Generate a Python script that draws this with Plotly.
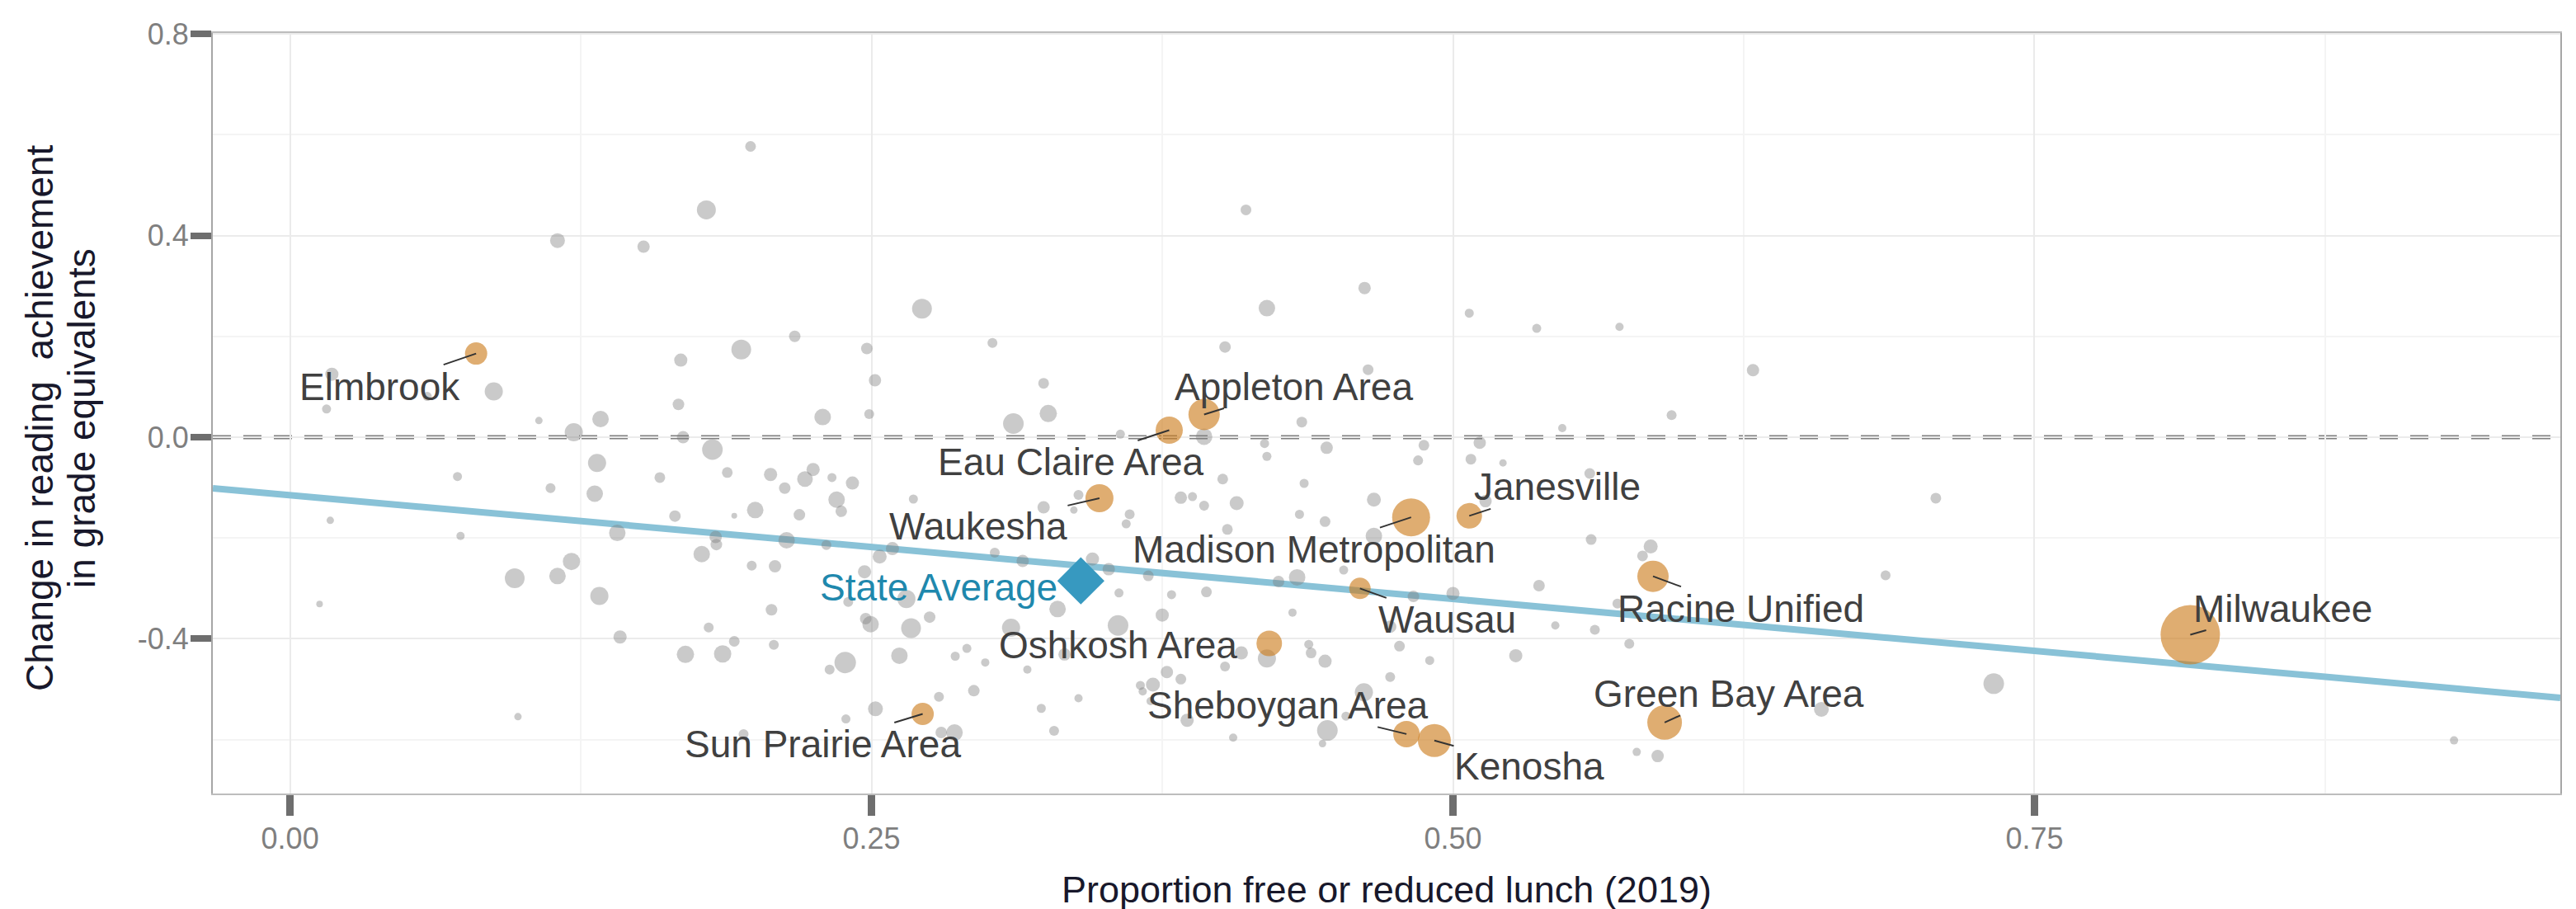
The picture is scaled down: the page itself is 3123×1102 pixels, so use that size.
import numpy as np
import plotly.graph_objects as go

# ---------------- data ----------------
# Gray points: all other districts (proportion FRL 2019, change in reading GE, enrollment)
gray_x = [
    0.198, 0.179, 0.115, 0.152, 0.217, 0.194, 0.248, 0.168, 0.2515, 0.018, 0.0876, 0.059, 0.0157, 0.167, 0.229, 0.249, 0.107, 0.1335, 0.122, 0.169, 0.1816,
    0.411, 0.2717, 0.420, 0.462, 0.507, 0.536, 0.302, 0.402, 0.324, 0.4635, 0.311, 0.326, 0.357, 0.435, 0.547, 0.393,
    0.5716, 0.629, 0.594,
    0.132, 0.072, 0.159, 0.188, 0.2066, 0.2249, 0.2214, 0.233, 0.2418, 0.2127,
    0.112, 0.131, 0.235, 0.237, 0.200, 0.219, 0.1655, 0.191, 0.0173, 0.0733,
    0.1407, 0.183, 0.1833, 0.2135, 0.2306, 0.177, 0.2535, 0.259, 0.121, 0.1985,
    0.2085, 0.247, 0.0966, 0.115, 0.265, 0.133, 0.0127, 0.207, 0.240, 0.2475,
    0.2496, 0.267, 0.180, 0.1419, 0.191, 0.208, 0.170, 0.186, 0.2387, 0.232,
    0.262, 0.2517, 0.239, 0.098, 0.195,
    0.419, 0.4457, 0.4875, 0.5115, 0.420, 0.485, 0.5077, 0.5215, 0.401, 0.436,
    0.268, 0.339, 0.383, 0.388, 0.393, 0.407, 0.466, 0.324, 0.337, 0.361,
    0.434, 0.445, 0.403, 0.514, 0.3595, 0.466, 0.303, 0.315, 0.345, 0.352,
    0.369, 0.425, 0.433, 0.453, 0.483, 0.500, 0.537, 0.394, 0.379, 0.3564,
    0.330, 0.275, 0.310, 0.356, 0.375, 0.431, 0.473, 0.544, 0.291, 0.286,
    0.2989, 0.333, 0.317, 0.420, 0.409, 0.438, 0.439, 0.445, 0.402, 0.477,
    0.490, 0.527, 0.377, 0.383, 0.371, 0.3656, 0.3666, 0.370, 0.294, 0.279,
    0.339, 0.473, 0.4617, 0.323, 0.3857, 0.446, 0.280, 0.2857, 0.3285, 0.4055,
    0.4439, 0.454,
    0.5588, 0.7076, 0.5594, 0.585, 0.5815, 0.686, 0.561, 0.5758, 0.5707, 0.7325, 0.6584, 0.579, 0.588, 0.9304,
]
gray_y = [
    0.577, 0.451, 0.390, 0.378, 0.200, 0.174, 0.176, 0.153, 0.113, 0.125, 0.091, 0.081, 0.056, 0.065, 0.040, 0.046, 0.033, 0.036, 0.010, 0.000, -0.0245,
    0.451, 0.255, 0.256, 0.296, 0.246, 0.216, 0.187, 0.179, 0.107, 0.134, 0.027, 0.047, 0.006, 0.030, 0.018, 0.001,
    0.219, 0.133, 0.044,
    -0.051, -0.078, -0.080, -0.070, -0.074, -0.064, -0.083, -0.080, -0.091, -0.101,
    -0.101, -0.112, -0.124, -0.147, -0.1445, -0.154, -0.1565, -0.156, -0.165, -0.196,
    -0.190, -0.198, -0.213, -0.2045, -0.214, -0.232, -0.237, -0.221, -0.2465, -0.255,
    -0.256, -0.267, -0.280, -0.2755, -0.321, -0.315, -0.331, -0.3425, -0.327, -0.360,
    -0.371, -0.379, -0.3775, -0.3965, -0.405, -0.412, -0.431, -0.430, -0.447, -0.461,
    -0.4335, -0.539, -0.559, -0.5545, -0.589,
    -0.0125, -0.021, -0.016, -0.011, -0.038, -0.046, -0.0436, -0.051, -0.083, -0.0916,
    -0.1227, -0.1145, -0.120, -0.118, -0.136, -0.131, -0.124, -0.139, -0.1445, -0.153,
    -0.153, -0.1675, -0.183, -0.127, -0.172, -0.196, -0.229, -0.2455, -0.2416, -0.262,
    -0.275, -0.2865, -0.278, -0.2635, -0.316, -0.310, -0.2945, -0.307, -0.3125, -0.309,
    -0.341, -0.357, -0.378, -0.3735, -0.353, -0.348, -0.376, -0.3735, -0.419, -0.4345,
    -0.447, -0.431, -0.461, -0.439, -0.428, -0.411, -0.428, -0.4445, -0.455, -0.4145,
    -0.443, -0.4336, -0.466, -0.480, -0.491, -0.4925, -0.5045, -0.5236, -0.503, -0.515,
    -0.518, -0.476, -0.506, -0.538, -0.5617, -0.582, -0.586, -0.586, -0.5825, -0.596,
    -0.608, -0.5535,
    -0.072, -0.121, -0.203, -0.217, -0.2356, -0.274, -0.382, -0.410, -0.330, -0.489, -0.540, -0.6245, -0.6327, -0.6016,
]
gray_enroll = [
    2320, 7260, 4440, 3090, 2690, 7900, 2690, 3510, 3090, 3510, 6640, 1660, 1660, 2690, 5490, 1980, 1110, 5490, 6640, 3090, 8570,
    2320, 7900, 5490, 3090, 1660, 1660, 1980, 2690, 2320, 2320, 8570, 6050, 1660, 2320, 1370, 5490,
    1370, 3090, 1980,
    6640, 1660, 2320, 2320, 3510, 3510, 4950, 1660, 3510, 2690,
    1980, 5490, 5490, 2690, 5490, 2690, 2690, 670, 1110, 1370,
    5490, 3090, 2690, 5490, 1980, 5490, 3960, 3510, 6050, 1980,
    3090, 3510, 7900, 5490, 6640, 6640, 880, 2690, 1980, 2690,
    5490, 7900, 1980, 3510, 2320, 1980, 6050, 6050, 9270, 1980,
    5490, 4440, 1660, 1110, 1980,
    1660, 3090, 2320, 3090, 1660, 1980, 2320, 1110, 2320, 1660,
    1660, 1980, 3090, 1660, 1980, 3960, 3960, 3090, 1110, 1980,
    1660, 2320, 2320, 3090, 1660, 5490, 1980, 3090, 3510, 3090,
    2320, 2690, 5490, 1660, 2690, 3510, 2690, 2320, 1660, 1660,
    5490, 2690, 6640, 8570, 3510, 1370, 3090, 1370, 1660, 1660,
    1370, 3090, 1370, 6640, 3510, 1660, 2320, 3510, 1980, 2320,
    1660, 3510, 3090, 2320, 3960, 1660, 1370, 1370, 2690, 1980,
    1370, 1980, 6640, 1660, 3510, 8570, 2690, 5490, 1980, 1370,
    1110, 1660,
    2320, 2320, 2320, 3960, 2320, 1980, 1980, 1980, 1980, 8570, 4440, 1370, 3090, 1370,
]

# Highlighted districts
dist_names = ["Elmbrook", "Eau Claire Area", "Appleton Area", "Waukesha", "Madison Metropolitan",
              "Janesville", "Wausau", "Oshkosh Area", "Racine Unified", "Milwaukee",
              "Green Bay Area", "Sheboygan Area", "Kenosha", "Sun Prairie Area"]
dist_x = [0.080, 0.378, 0.393, 0.348, 0.482, 0.507, 0.460, 0.421, 0.586, 0.817, 0.591, 0.480, 0.492, 0.272]
dist_y = [0.166, 0.014, 0.045, -0.121, -0.159, -0.156, -0.300, -0.409, -0.276, -0.392, -0.566, -0.589, -0.602, -0.549]
dist_enroll = [10000, 14940, 19810, 15860, 29030, 13180, 9270, 13180, 19810, 71110, 24200, 14050, 21950, 10000]

state_label = "State Average"
state_x = [0.340]
state_y = [-0.285]

fit_intercept = -0.115
fit_slope = -0.412

x_tickvals = [0.0, 0.25, 0.5, 0.75]
x_ticktext = ["0.00", "0.25", "0.50", "0.75"]
y_tickvals = [-0.4, 0.0, 0.4, 0.8]
y_ticktext = ["-0.4", "0.0", "0.4", "0.8"]

x_title = "Proportion free or reduced lunch (2019)"
y_title_lines = ["Change in reading  achievement", "in grade equivalents"]

# ---------------- styling / layout ----------------
assert len(gray_x) == len(gray_y) == len(gray_enroll)
SIZE_K = 0.27
X_RANGE = [-0.0332, 0.9761]
Y_RANGE = [-0.707, 0.802]
FONT = "Liberation Sans, Arial, Helvetica, sans-serif"

# label offsets in pixels (ax, ay), ay positive = downward
label_offsets = {
    "Elmbrook": (-117, 40), "Eau Claire Area": (-119, 39), "Appleton Area": (109, -34),
    "Waukesha": (-147, 34), "Madison Metropolitan": (-118, 39), "Janesville": (107, -35),
    "Wausau": (106, 38), "Oshkosh Area": (-183, 2), "Racine Unified": (106, 39),
    "Milwaukee": (112, -32), "Green Bay Area": (78, -35), "Sheboygan Area": (-144, -35),
    "Kenosha": (115, 31), "Sun Prairie Area": (-121, 37),
}
no_segment = {"Oshkosh Area"}

fig = go.Figure()

# regression line
fx = np.array(X_RANGE)
fig.add_trace(go.Scatter(x=fx, y=fit_intercept + fit_slope * fx, mode="lines",
                         line=dict(color="#89c2d7", width=8), hoverinfo="skip", showlegend=False))

# gray points
fig.add_trace(go.Scatter(
    x=gray_x, y=gray_y, mode="markers",
    marker=dict(size=SIZE_K * np.sqrt(np.array(gray_enroll)), color="rgba(125,125,125,0.58)",
                line=dict(width=0)),
    hoverinfo="skip", showlegend=False))

# highlighted districts
fig.add_trace(go.Scatter(
    x=dist_x, y=dist_y, mode="markers", text=dist_names,
    marker=dict(size=SIZE_K * np.sqrt(np.array(dist_enroll)), color="rgba(205,125,30,0.9)",
                line=dict(width=0)),
    showlegend=False))

# state average diamond
fig.add_trace(go.Scatter(
    x=state_x, y=state_y, mode="markers",
    marker=dict(symbol="diamond", size=44, color="#3799c0", line=dict(width=0)),
    showlegend=False))

annotations = []
for name, x, y in zip(dist_names, dist_x, dist_y):
    ax, ay = label_offsets[name]
    if name in no_segment:
        annotations.append(dict(x=x, y=y, xref="x", yref="y", text=name, showarrow=False,
                                xshift=ax, yshift=-ay,
                                font=dict(family=FONT, size=46, color="#404040")))
    else:
        annotations.append(dict(x=x, y=y, xref="x", yref="y", text=name, showarrow=True,
                                ax=ax, ay=ay, axref="pixel", ayref="pixel",
                                arrowhead=0, arrowwidth=2, arrowcolor="#333333",
                                standoff=0, startstandoff=0, borderpad=0,
                                font=dict(family=FONT, size=46, color="#404040")))

annotations.append(dict(x=state_x[0], y=state_y[0], xref="x", yref="y", text=state_label,
                        showarrow=False, xanchor="right", xshift=-26, yshift=-8,
                        font=dict(family=FONT, size=46, color="#1f88ad")))

# axis titles
annotations.append(dict(x=0.5, y=0, xref="paper", yref="paper", text=x_title, showarrow=False,
                        xanchor="center", yanchor="middle", yshift=-116,
                        font=dict(family=FONT, size=45, color="#18182b")))
for i, (line, xs) in enumerate(zip(y_title_lines, [-210, -159])):
    annotations.append(dict(x=0, y=0.5, xref="paper", yref="paper", text=line, showarrow=False,
                            textangle=-90, xanchor="center", yanchor="middle", xshift=xs, yshift=-6,
                            font=dict(family=FONT, size=46, color="#18182b")))

fig.update_layout(
    width=3123, height=1102,
    margin=dict(l=250, r=27, t=32, b=148),
    paper_bgcolor="white", plot_bgcolor="white",
    annotations=annotations,
    shapes=[dict(type="line", xref="paper", x0=0, x1=1, yref="y", y0=0, y1=0, layer="below",
                 line=dict(color="#808080", width=5, dash="22px,15px"))],
    showlegend=False,
)

fig.update_xaxes(
    range=X_RANGE, tickvals=x_tickvals, ticktext=x_ticktext,
    ticks="outside", ticklen=25, tickwidth=9, tickcolor="#6e6e6e",
    tickfont=dict(family=FONT, size=36, color="#7f7f7f"), ticklabelstandoff=-3,
    showgrid=True, gridcolor="#ebebeb", gridwidth=2,
    minor=dict(tickvals=[0.125, 0.375, 0.625, 0.875], showgrid=True, gridcolor="#f4f4f4", gridwidth=1.5),
    showline=True, linecolor="#bdbdbd", linewidth=2, mirror=True, zeroline=False,
)
fig.update_yaxes(
    range=Y_RANGE, tickvals=y_tickvals, ticktext=y_ticktext,
    ticks="outside", ticklen=25, tickwidth=8, tickcolor="#6e6e6e",
    tickfont=dict(family=FONT, size=36, color="#7f7f7f"), ticklabelstandoff=-5,
    showgrid=True, gridcolor="#ebebeb", gridwidth=2,
    minor=dict(tickvals=[-0.6, -0.2, 0.2, 0.6], showgrid=True, gridcolor="#f4f4f4", gridwidth=1.5),
    showline=True, linecolor="#a6a6a6", linewidth=2, mirror=True, zeroline=False,
)

fig.write_html("out.html")
